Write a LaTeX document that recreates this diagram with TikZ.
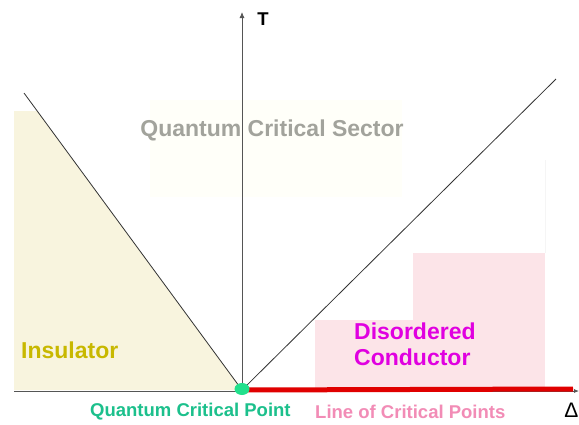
\documentclass[tikz,border=0pt]{standalone}
\usepackage{fontspec}
\setmainfont{Liberation Sans}
\usetikzlibrary{arrows.meta,positioning,shapes.geometric}
\definecolor{insfill}{HTML}{F8F4DE}
\definecolor{instext}{HTML}{C8B800}
\definecolor{secfill}{HTML}{FFFFF9}
\definecolor{sectext}{HTML}{A2A39C}
\definecolor{condfill}{HTML}{FCE4E8}
\definecolor{condtext}{HTML}{E000E0}
\definecolor{qcpgreen}{HTML}{22E08C}
\definecolor{qcptext}{HTML}{1CC08C}
\definecolor{linetext}{HTML}{F28CB6}
\definecolor{critred}{HTML}{E00000}
\definecolor{axisgray}{HTML}{555555}

\begin{document}
\begin{tikzpicture}[x=1pt,y=-1pt,font=\bfseries,
    bigtxt/.style={font=\fontsize{23}{26}\selectfont\bfseries,inner sep=0pt,align=left},
    smalltxt/.style={font=\fontsize{18.5}{20}\selectfont\bfseries,inner sep=0pt}]
    \useasboundingbox[fill=white] (0,0) rectangle (579,424);
    % regions
    \fill[secfill] (150,100) rectangle (402,197);
    \fill[insfill] (14,111) -- (37,111) -- (242,390) -- (14,390) -- cycle;
    \fill[condfill] (315,320) rectangle (413,390);
    \fill[condfill] (413,253) rectangle (545,390);
    \draw[white!96!black,very thin] (545,160) -- (545,253);
    % axes and crossover lines
    \coordinate (o) at (242,390);
    \coordinate (ttop) at (242,12);
    \coordinate (xl) at (14,391);
    \coordinate (xr) at (579,391);
    \coordinate (lt) at (24,93);
    \coordinate (rt) at (556,79);
    \draw[axisgray,thick,-{Latex[length=6pt,width=5pt]}] (o) -- (ttop);
    \draw[axisgray,thick,-{Latex[length=5pt,width=4pt]}] (xl) -- (xr);
    \draw[black!80,thick] (lt) -- (o);
    \draw[black!80,thick] (o) -- (rt);
    \draw[critred,line width=5pt] (o) -- (573,389);
    \node (qcp) at (242,389) [ellipse,fill=qcpgreen,minimum width=15pt,minimum height=12pt,inner sep=0pt] {};
    % labels
    \node (t) at (263,19) [smalltxt,text=black] {T};
    \node (delta) at (578.5,410) [anchor=east,inner sep=0pt,text=black,font=\fontsize{21}{24}\selectfont] {Δ};
    \node (sector) at (272,130) [bigtxt,text=sectext] {Quantum Critical Sector};
    \node (ins) at (21,350) [bigtxt,anchor=west,text=instext] {Insulator};
    \node (cond) at (354,344) [bigtxt,anchor=west,text=condtext] {Disordered\\Conductor};
    \node (qcplabel) at (90,412) [smalltxt,anchor=west,text=qcptext] {Quantum Critical Point};
    \node (linelabel) at (315,412) [smalltxt,anchor=west,text=linetext] {Line of Critical Points};
  \end{tikzpicture}
\end{document}
